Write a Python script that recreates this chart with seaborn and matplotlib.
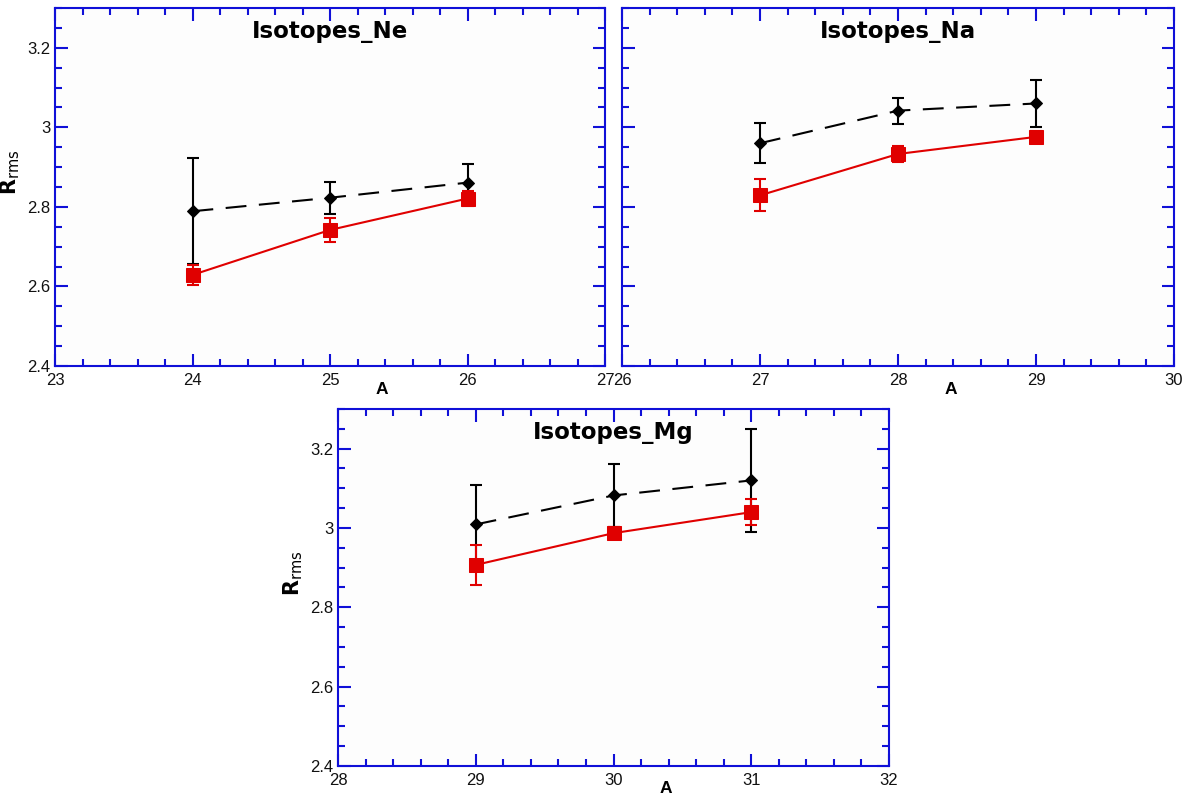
import matplotlib
matplotlib.use("Agg")
import matplotlib.pyplot as plt
from matplotlib.ticker import MultipleLocator
import seaborn as sns
import pandas as pd

# dados -----------------------------------------------------------------
titulos = ['Isotopes_Ne', 'Isotopes_Na', 'Isotopes_Mg']

massa_ne = [24, 25, 26]
preto_ne = [2.789, 2.823, 2.861]
preto_ne_err = [0.133, 0.04, 0.048]
vermelho_ne = [2.629, 2.742, 2.821]
vermelho_ne_err = [0.025, 0.03, 0.018]

massa_na = [27, 28, 29]
preto_na = [2.960, 3.042, 3.060]
preto_na_err = [0.05, 0.033, 0.06]
vermelho_na = [2.829, 2.933, 2.976]
vermelho_na_err = [0.04, 0.02, 0.015]

massa_mg = [29, 30, 31]
preto_mg = [3.009, 3.082, 3.120]
preto_mg_err = [0.10, 0.08, 0.13]
vermelho_mg = [2.907, 2.987, 3.040]
vermelho_mg_err = [0.05, 0.015, 0.032]

limites_x = [(23, 27), (26, 30), (28, 32)]

conjuntos = [
    (massa_ne, preto_ne, preto_ne_err, vermelho_ne, vermelho_ne_err),
    (massa_na, preto_na, preto_na_err, vermelho_na, vermelho_na_err),
    (massa_mg, preto_mg, preto_mg_err, vermelho_mg, vermelho_mg_err),
]

# preparativos iniciais
sns.set_theme(style="ticks", rc={'text.color': 'black',
                                 'axes.labelcolor': 'black'})
plt.rcParams['font.family'] = ['Liberation Sans', 'DejaVu Sans']

azul = '#1010D8'
vermelho = '#E00000'

fig = plt.figure(figsize=(11.85, 7.98), dpi=100)
posicoes = [
    [55 / 1185, 1 - 366 / 798, 550 / 1185, 358 / 798],
    [622 / 1185, 1 - 366 / 798, 552 / 1185, 358 / 798],
    [338 / 1185, 1 - 766 / 798, 551 / 1185, 357 / 798],
]

for k, (pos, titulo, (xs, yp, ep, yv, ev), xlim) in enumerate(
        zip(posicoes, titulos, conjuntos, limites_x)):
    ax = fig.add_axes(pos)
    ax.set_facecolor('#FDFDFD')

    df = pd.DataFrame({'A': xs, 'preto': yp, 'vermelho': yv})

    # barras de erro
    ax.errorbar(xs, yp, yerr=ep, fmt='none', ecolor='black',
                elinewidth=1.5, capsize=4, capthick=1.5, zorder=2)
    ax.errorbar(xs, yv, yerr=ev, fmt='none', ecolor=vermelho,
                elinewidth=1.5, capsize=4, capthick=1.5, zorder=3)

    # linhas
    sns.lineplot(data=df, x='A', y='vermelho', ax=ax, color=vermelho,
                 linewidth=1.5, marker='s', markersize=10,
                 markeredgecolor=vermelho, zorder=4)
    sns.lineplot(data=df, x='A', y='preto', ax=ax, color='black',
                 linewidth=1.5, marker='D', markersize=6.5,
                 markeredgecolor='black', zorder=5)
    ax.lines[-1].set_dashes([10, 6])

    ax.set_xlim(*xlim)
    ax.set_ylim(2.4, 3.3)
    ax.xaxis.set_major_locator(MultipleLocator(1))
    ax.xaxis.set_minor_locator(MultipleLocator(0.2))
    ax.yaxis.set_major_locator(MultipleLocator(0.2))
    ax.yaxis.set_minor_locator(MultipleLocator(0.05))
    ax.yaxis.set_major_formatter(plt.FuncFormatter(lambda v, p: f'{v:g}'))

    ax.tick_params(which='both', direction='in', top=True, right=True,
                   color=azul, width=1.5, labelsize=12, labelcolor='#111111')
    ax.tick_params(which='major', length=9)
    ax.tick_params(which='minor', length=5)
    ax.tick_params(axis='x', pad=5)
    for sp in ax.spines.values():
        sp.set_visible(True)
        sp.set_color(azul)
        sp.set_linewidth(1.5)

    ax.set_xlabel('A', fontsize=12.5, fontweight='bold', va='center',
                  color='black')
    ax.xaxis.set_label_coords(0.595, -23 / 358)
    if k == 1:
        ax.set_ylabel('')
        ax.set_yticklabels([])
    else:
        ax.set_ylabel(r'$\mathbf{R}_{\mathrm{rms}}$', fontsize=15,
                      color='black')
        ax.yaxis.set_label_coords(-0.06, 0.54)

    ax.text(0.5, 0.935, titulo, transform=ax.transAxes, ha='center',
            va='center', fontsize=16.5, fontweight='bold', color='black',
            family=['DejaVu Sans'])

fig.savefig('out.png', dpi=100)
